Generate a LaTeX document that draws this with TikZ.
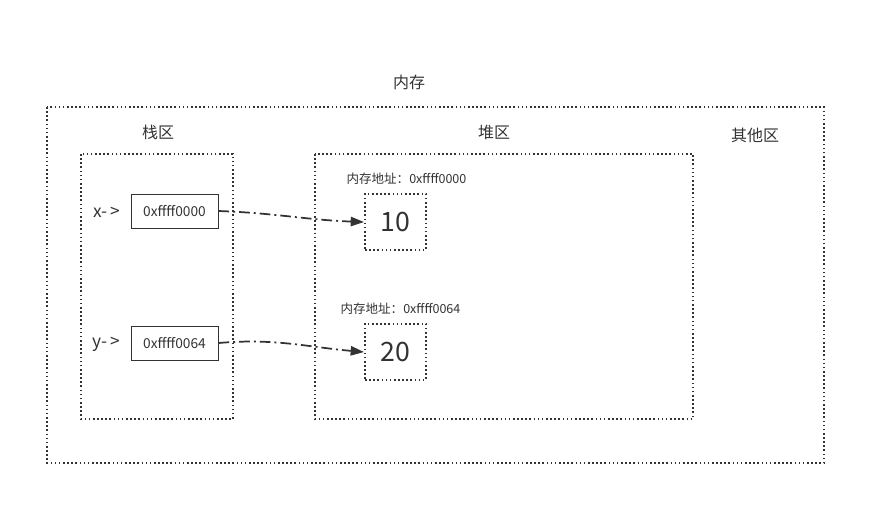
\documentclass[tikz,border=0pt]{standalone}
\usepackage{fontspec}
\setmainfont{Noto Sans CJK SC}
\usepackage{tikz}
\usetikzlibrary{arrows.meta,positioning}
\definecolor{inkgray}{HTML}{333333}

\begin{document}
\begin{tikzpicture}[x=0.75pt,y=-0.75pt,
    dotbox/.style={draw=inkgray,line width=1.5pt,dash pattern=on 1.2pt off 1.9pt,inner sep=0pt},
    cellbox/.style={draw=inkgray,line width=0.7pt,minimum width=87*0.75pt,minimum height=34*0.75pt,inner sep=0pt,font=\fontsize{10.3}{11}\selectfont,text=inkgray},
    valbox/.style={dotbox,minimum width=61*0.75pt,minimum height=56*0.75pt,font=\fontsize{20}{22}\selectfont,text=inkgray},
    arealabel/.style={font=\fontsize{12}{14}\selectfont,text=inkgray},
    namelabel/.style={font=\fontsize{13}{14}\selectfont,text=inkgray,inner sep=0pt},
    addrlabel/.style={font=\fontsize{9.4}{10}\selectfont,text=inkgray},
    ptrline/.style={draw=inkgray,line width=1.3pt,dash pattern=on 8pt off 3pt on 1.5pt off 3pt,-{Triangle[length=10pt,width=7pt]}}]
  \useasboundingbox (0,0) rectangle (886,526);
  % Regions
  \draw[dotbox] (47,107) rectangle (824,463);
  \node[arealabel] (memlab) at (409,82) {内存};
  \draw[dotbox] (81,154) rectangle (233,419);
  \node[arealabel] (stacklab) at (158,132) {栈区};
  \draw[dotbox] (315,154) rectangle (693,419);
  \node[arealabel] (heaplab) at (494,132) {堆区};
  \node[arealabel] (otherlab) at (755,135) {其他区};
  % Stack cells
  \node[cellbox] (xcell) at (174.5,211) {0xffff0000};
  \node[namelabel,left=10*0.75pt of xcell,yshift=-1*0.75pt] (xname) {x-\,>};
  \node[cellbox] (ycell) at (174.5,343) {0xffff0064};
  \node[namelabel,left=10*0.75pt of ycell,yshift=-1*0.75pt] (yname) {y-\,>};
  % Heap values
  \node[valbox] (xval) at (395.5,222) {10};
  \node[addrlabel,above=4*0.75pt of xval,xshift=11*0.75pt] (xaddr) {内存地址：0xffff0000};
  \node[valbox] (yval) at (395.5,352) {20};
  \node[addrlabel,above=4*0.75pt of yval,xshift=5*0.75pt] (yaddr) {内存地址：0xffff0064};
  % Pointers
  \draw[ptrline] (xcell.east) to[out=-2,in=178] (xval.west);
  \draw[ptrline] (ycell.east) to[out=5,in=175] (yval.west);
\end{tikzpicture}
\end{document}
